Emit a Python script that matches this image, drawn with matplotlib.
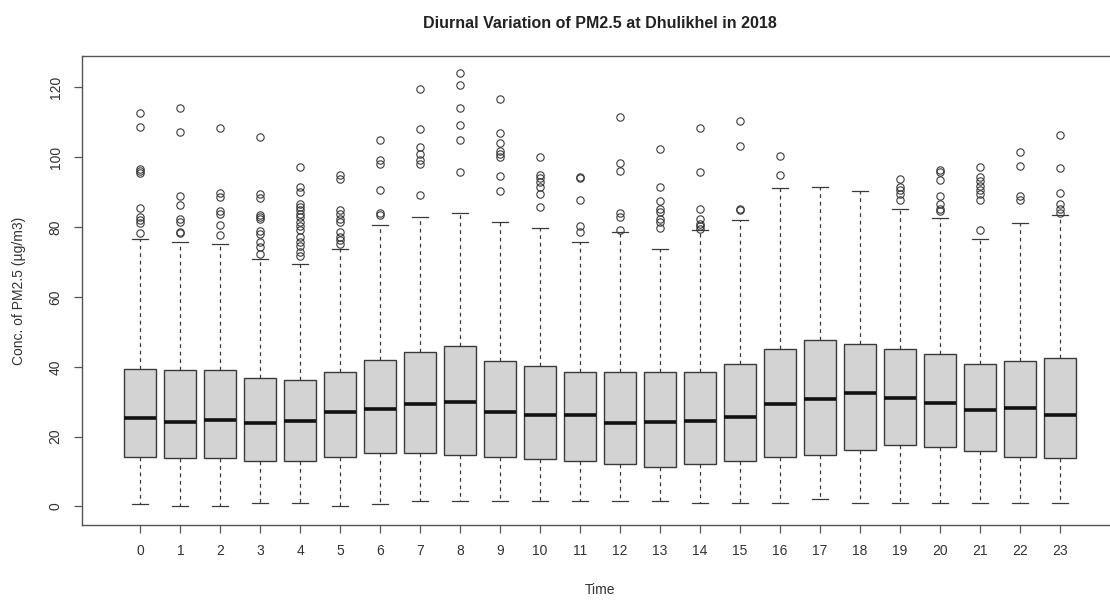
import matplotlib
matplotlib.use("Agg")
import matplotlib.pyplot as plt

plt.rcParams['font.family'] = ['Liberation Sans', 'DejaVu Sans']

hours = list(range(24))

# five-number summaries (ug/m3)
whis_lo = [0.7, 0.2, 0.2, 1.1, 1.1, 0.2, 0.7, 1.6, 1.7, 1.7, 1.7, 1.7,
           1.7, 1.7, 1.1, 1.1, 1.1, 2.2, 1.1, 1.1, 1.1, 1.1, 1.1, 1.1]
q1 = [14.3, 13.8, 13.8, 13.1, 13.1, 14.3, 15.4, 15.4, 14.8, 14.3, 13.6, 13.1,
      12.1, 11.4, 12.1, 13.1, 14.3, 14.8, 16.2, 17.6, 17.1, 15.9, 14.3, 13.8]
median = [25.4, 24.3, 24.8, 23.8, 24.5, 27.1, 27.9, 29.3, 29.8, 27.1, 26.2, 26.2,
          23.8, 24.1, 24.5, 25.7, 29.3, 30.7, 32.4, 31.1, 29.5, 27.6, 28.1, 26.2]
q3 = [39.5, 39.1, 39.1, 36.7, 36.2, 38.4, 41.9, 44.1, 45.9, 41.7, 40.2, 38.4,
      38.4, 38.4, 38.4, 40.8, 45.2, 47.6, 46.4, 45.2, 43.6, 40.7, 41.6, 42.4]
whis_hi = [76.7, 75.6, 75.1, 71.0, 69.5, 73.8, 80.7, 83.0, 84.0, 81.6, 79.8, 75.7,
           78.6, 73.8, 79.1, 81.9, 91.1, 91.6, 90.3, 85.3, 82.6, 76.7, 81.1, 83.6]

outliers = [
    [112.6, 108.7, 96.0, 95.5, 96.6, 85.4, 82.9, 81.9, 81.1, 78.3],
    [114.1, 107.1, 88.8, 86.2, 82.4, 81.6, 78.6, 78.2],
    [108.3, 89.7, 88.6, 84.5, 83.8, 80.7, 77.6],
    [105.7, 89.5, 88.4, 83.5, 82.9, 82.4, 78.8, 77.9, 75.7, 74.3, 72.4],
    [97.3, 91.6, 90.0, 86.5, 85.7, 84.8, 83.8, 82.9, 81.4, 80.2, 79.2, 77.1,
     75.7, 74.7, 72.9, 71.7],
    [94.8, 93.8, 85.0, 83.8, 82.4, 81.4, 78.6, 77.1, 76.2, 75.3],
    [104.9, 99.2, 98.0, 90.7, 84.1, 83.4],
    [119.5, 108.1, 102.9, 101.0, 99.1, 98.1, 89.3],
    [124.0, 120.7, 114.1, 109.3, 104.9, 95.9],
    [116.7, 106.9, 104.0, 101.9, 101.0, 100.2, 94.5, 90.3],
    [100.0, 95.0, 94.0, 92.9, 91.6, 89.4, 85.7],
    [94.3, 94.0, 87.8, 80.3, 78.6],
    [111.4, 98.3, 96.2, 84.0, 82.9, 79.1],
    [102.4, 91.4, 87.6, 85.3, 84.3, 82.4, 81.4, 79.7],
    [108.4, 95.9, 85.3, 82.4, 81.0, 80.2, 79.5],
    [110.5, 103.3, 85.3, 84.8],
    [100.5, 94.8],
    [],
    [],
    [93.8, 91.4, 90.5, 89.5, 87.8],
    [96.4, 95.7, 93.5, 88.8, 86.7, 85.3, 84.6],
    [97.3, 94.3, 93.3, 91.9, 90.5, 89.6, 87.9, 79.2],
    [101.6, 97.6, 88.8, 87.9],
    [106.5, 97.0, 89.7, 86.5, 85.3, 84.0],
]

stats = []
for i, h in enumerate(hours):
    stats.append({'label': str(h), 'whislo': whis_lo[i], 'q1': q1[i],
                  'med': median[i], 'q3': q3[i], 'whishi': whis_hi[i],
                  'fliers': outliers[i]})

fig = plt.figure(figsize=(11.1, 6.0), dpi=100)
# the original export is cropped on the right, so the axes run past the edge
ax = fig.add_axes([82 / 1110, 75 / 600, 1036 / 1110, 469 / 600])

edge = '#3a3a3a'
ax.bxp(stats, positions=hours, widths=0.8, patch_artist=True,
       boxprops=dict(facecolor='#d3d3d3', edgecolor=edge, linewidth=1.0),
       medianprops=dict(color='#111111', linewidth=2.6, solid_capstyle='butt'),
       whiskerprops=dict(color=edge, linewidth=0.9, linestyle=(0, (3, 3))),
       capprops=dict(color=edge, linewidth=0.9),
       capwidths=0.4,
       flierprops=dict(marker='o', markerfacecolor='none', markeredgecolor=edge,
                       markersize=5.3, markeredgewidth=0.8, linestyle='none'))

ax.set_xlim(-1.46, 24.46)
ax.set_ylim(-5.3, 129)
ax.set_xticks(hours)
ax.set_xticklabels([str(h) for h in hours])
ax.set_yticks([0, 20, 40, 60, 80, 100, 120])
ax.set_yticklabels(['0', '20', '40', '60', '80', '100', '120'],
                   rotation=90, va='center')

for s in ax.spines.values():
    s.set_color('#555555')
    s.set_linewidth(1.0)
ax.tick_params(axis='both', colors='#555555', labelcolor='#333333',
               labelsize=10, length=6, width=0.9, pad=8)

ax.set_xlabel('Time', fontsize=10, color='#333333', labelpad=18)
ax.set_ylabel('Conc. of PM2.5 (µg/m3)', fontsize=10, color='#333333',
              labelpad=16)
ax.set_title('Diurnal Variation of PM2.5 at Dhulikhel in 2018',
             fontsize=11.5, fontweight='bold', color='#222222', pad=20)

fig.savefig('out.png', dpi=100)
